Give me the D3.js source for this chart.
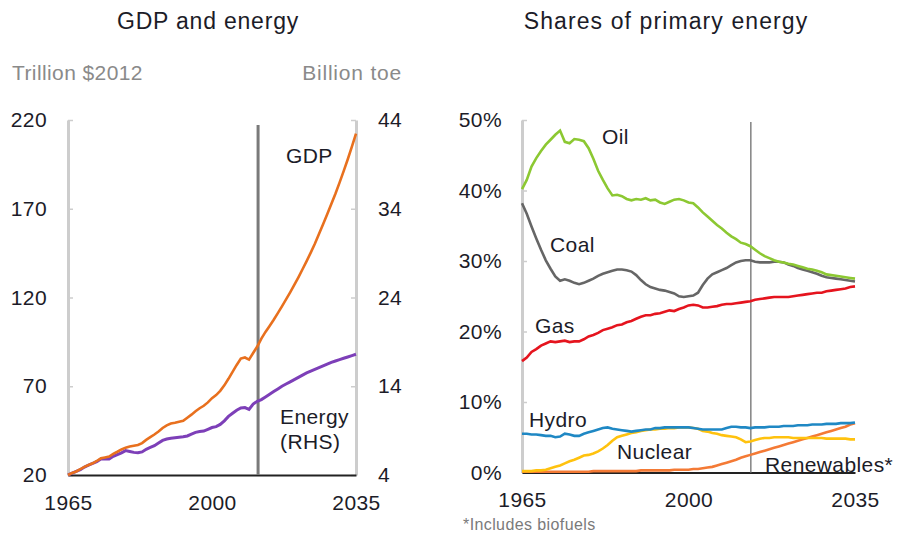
<!DOCTYPE html>
<html>
<head>
<meta charset="utf-8">
<script src="https://cdn.jsdelivr.net/npm/d3@7"></script>
<style>
  body { margin: 0; background: #fff; }
  text { font-family: "Liberation Sans", Arial, sans-serif; fill: #1c1c28; letter-spacing: 0.4px; }
</style>
</head>
<body>
<script>
// years shared by both panels
var years = d3.range(1965, 2036);

// GDP, trillion $2012 (left axis)
var gdp = [20.0, 21.1, 22.0, 23.3, 24.6, 25.6, 26.6, 27.9, 29.4, 29.9,
    30.4, 31.9, 33.1, 34.4, 35.4, 36.0, 36.5, 36.9, 38.0, 39.8,
    41.3, 42.8, 44.5, 46.5, 48.0, 49.0, 49.4, 50.0, 50.5, 52.3,
    54.0, 55.9, 57.6, 59.0, 60.9, 63.3, 65.0, 67.4, 70.5, 74.2,
    78.1, 82.0, 85.6, 86.2, 85.0, 88.7, 92.4, 96.8, 100.6, 104.0,
    107.5, 111.2, 115.0, 118.9, 122.9, 127.1, 131.4, 135.9, 140.5, 145.3,
    150.3, 155.8, 161.3, 166.9, 172.7, 178.5, 184.7, 191.2, 197.9, 205.0,
    212.3];

// primary energy, billion toe (right axis)
var energy = [4.0, 4.2, 4.4, 4.6, 4.9, 5.1, 5.3, 5.5, 5.8, 5.8,
    5.8, 6.1, 6.3, 6.5, 6.75, 6.65, 6.55, 6.5, 6.6, 6.9,
    7.1, 7.3, 7.6, 7.9, 8.05, 8.15, 8.2, 8.25, 8.3, 8.4,
    8.6, 8.8, 8.9, 8.95, 9.15, 9.35, 9.45, 9.7, 10.1, 10.6,
    10.95, 11.3, 11.55, 11.6, 11.4, 12.0, 12.3, 12.5, 12.8, 13.1,
    13.4, 13.7, 14.0, 14.25, 14.5, 14.75, 15.0, 15.25, 15.5, 15.7,
    15.9, 16.1, 16.3, 16.5, 16.7, 16.85, 17.0, 17.15, 17.3, 17.45,
    17.6];

// shares of primary energy, %
var oil = [40.2, 41.5, 43.4, 44.6, 45.6, 46.5, 47.2, 47.9, 48.5, 46.9,
    46.7, 47.3, 47.2, 47.0, 46.0, 44.5, 42.8, 41.5, 40.3, 39.3,
    39.4, 39.2, 38.8, 38.6, 38.8, 38.7, 38.9, 38.6, 38.7, 38.3,
    38.1, 38.4, 38.7, 38.8, 38.6, 38.3, 38.2, 37.6, 36.9, 36.3,
    35.7, 35.1, 34.6, 34.0, 33.5, 33.1, 32.6, 32.4, 32.1, 31.6,
    31.1, 30.7, 30.4, 30.1, 29.9, 29.8, 29.6, 29.5, 29.3, 29.1,
    28.9, 28.8, 28.6, 28.4, 28.1, 28.0, 27.9, 27.8, 27.7, 27.6,
    27.5];
var coal = [38.2, 36.7, 34.9, 33.2, 31.6, 30.1, 28.9, 27.8, 27.2, 27.4,
    27.2, 26.9, 26.7, 26.9, 27.2, 27.5, 27.9, 28.2, 28.4, 28.6,
    28.8, 28.8, 28.7, 28.5, 28.0, 27.3, 26.7, 26.3, 26.1, 25.9,
    25.8, 25.6, 25.4, 25.0, 24.9, 25.0, 25.1, 25.5, 26.6, 27.5,
    28.1, 28.4, 28.7, 29.0, 29.4, 29.8, 30.0, 30.1, 30.1, 29.9,
    29.8, 29.8, 29.8, 29.9, 29.9, 29.8, 29.5, 29.3, 29.0, 28.8,
    28.6, 28.4, 28.2, 27.9, 27.7, 27.6, 27.5, 27.4, 27.3, 27.2,
    27.1];
var gas = [15.8, 16.3, 17.1, 17.5, 18.0, 18.3, 18.6, 18.5, 18.6, 18.7,
    18.5, 18.6, 18.6, 18.9, 19.3, 19.5, 19.8, 20.2, 20.4, 20.6,
    20.9, 21.0, 21.3, 21.5, 21.8, 22.1, 22.3, 22.3, 22.5, 22.6,
    22.8, 23.0, 22.9, 23.2, 23.4, 23.7, 23.8, 23.7, 23.4, 23.4,
    23.5, 23.6, 23.8, 23.9, 23.9, 24.0, 24.1, 24.2, 24.3, 24.5,
    24.6, 24.7, 24.8, 24.9, 24.9, 24.9, 24.9, 25.0, 25.1, 25.2,
    25.3, 25.4, 25.5, 25.5, 25.7, 25.8, 25.9, 26.0, 26.1, 26.3,
    26.4];
var hydro = [5.5, 5.5, 5.4, 5.4, 5.3, 5.2, 5.2, 5.0, 5.1, 5.5,
    5.4, 5.2, 5.2, 5.5, 5.7, 5.9, 6.1, 6.3, 6.4, 6.2,
    6.1, 6.0, 5.9, 5.8, 5.9, 6.0, 6.1, 6.1, 6.3, 6.3,
    6.4, 6.4, 6.4, 6.4, 6.4, 6.4, 6.3, 6.2, 6.1, 6.1,
    6.1, 6.1, 6.1, 6.3, 6.5, 6.5, 6.4, 6.4, 6.3, 6.4,
    6.4, 6.4, 6.5, 6.5, 6.5, 6.6, 6.6, 6.6, 6.7, 6.7,
    6.7, 6.8, 6.8, 6.8, 6.9, 6.9, 6.9, 7.0, 7.0, 7.0,
    7.1];
var nuclear = [0.2, 0.2, 0.2, 0.3, 0.3, 0.4, 0.6, 0.8, 1.0, 1.3,
    1.6, 1.8, 2.1, 2.4, 2.5, 2.7, 3.0, 3.4, 3.9, 4.5,
    5.0, 5.2, 5.4, 5.6, 5.7, 5.9, 6.0, 6.1, 6.1, 6.2,
    6.2, 6.3, 6.3, 6.4, 6.4, 6.4, 6.3, 6.2, 5.9, 5.8,
    5.6, 5.5, 5.3, 5.2, 5.1, 5.0, 4.7, 4.3, 4.4, 4.6,
    4.8, 4.9, 4.9, 5.0, 5.0, 5.0, 5.0, 4.9, 4.9, 4.9,
    4.9, 4.9, 4.9, 4.9, 4.8, 4.8, 4.8, 4.8, 4.8, 4.7,
    4.7];
var renewables = [0.1, 0.1, 0.1, 0.1, 0.1, 0.1, 0.1, 0.1, 0.1, 0.1,
    0.1, 0.1, 0.1, 0.1, 0.1, 0.2, 0.2, 0.2, 0.2, 0.2,
    0.2, 0.2, 0.2, 0.2, 0.2, 0.3, 0.3, 0.3, 0.3, 0.3,
    0.3, 0.3, 0.4, 0.4, 0.4, 0.4, 0.5, 0.5, 0.6, 0.7,
    0.8, 1.0, 1.2, 1.4, 1.6, 1.8, 2.1, 2.3, 2.5, 2.7,
    2.9, 3.1, 3.3, 3.5, 3.7, 3.9, 4.1, 4.3, 4.5, 4.7,
    4.9, 5.1, 5.3, 5.5, 5.7, 5.9, 6.1, 6.3, 6.5, 6.8,
    7.0];

var xTicks = [1965, 2000, 2035];
var gdpTicks = [20, 70, 120, 170, 220];
var energyTicks = [4, 14, 24, 34, 44];
var shareTicks = [0, 10, 20, 30, 40, 50];
// year where the projection starts, as drawn on each panel
var splitLeft = 2011.2, splitRight = 2013.1;

var width = 897, height = 533;
var svg = d3.select("body").append("svg").attr("width", width).attr("height", height);

// ---------- left panel: GDP and energy ----------
var xL = d3.scaleLinear().domain([1965, 2035]).range([68, 356]);
var yGdp = d3.scaleLinear().domain([20, 220]).range([475, 120]);
var yEn = d3.scaleLinear().domain([4, 44]).range([475, 120]);

svg.append("text").attr("x", 208).attr("y", 29).attr("text-anchor", "middle")
    .style("font-size", "23px").style("letter-spacing", "0.8px").text("GDP and energy");
svg.append("text").attr("x", 12).attr("y", 80).style("font-size", "21px")
    .style("fill", "#8a8a8a").text("Trillion $2012");
svg.append("text").attr("x", 402).attr("y", 80).attr("text-anchor", "end")
    .style("font-size", "21px").style("letter-spacing", "0.8px").style("fill", "#8a8a8a").text("Billion toe");

var axL = svg.append("g").attr("transform", "translate(68,0)")
    .call(d3.axisLeft(yGdp).tickValues(gdpTicks).tickSize(-5).tickSizeOuter(0).tickPadding(21));
var axR = svg.append("g").attr("transform", "translate(356,0)")
    .call(d3.axisRight(yEn).tickValues(energyTicks).tickSize(-5).tickSizeOuter(0).tickPadding(22));
[axL, axR].forEach(function (g) {
    g.select(".domain").attr("stroke", "#cdcdcd").attr("stroke-width", 3);
    g.selectAll(".tick line").attr("stroke", "#cdcdcd").attr("stroke-width", 1.5);
    g.selectAll(".tick text").style("font-size", "21px").attr("fill", "#1c1c28");
});

var axB = svg.append("g").attr("transform", "translate(0,475)")
    .call(d3.axisBottom(xL).tickValues(xTicks).tickSize(0).tickPadding(20).tickFormat(d3.format("d")));
axB.select(".domain").attr("stroke", "#222").attr("stroke-width", 2);
axB.selectAll(".tick text").style("font-size", "21px").attr("fill", "#1c1c28");

svg.append("line").attr("x1", xL(splitLeft)).attr("x2", xL(splitLeft))
    .attr("y1", 125).attr("y2", 475).attr("stroke", "#7a7a7a").attr("stroke-width", 3);

var lineGdp = d3.line().x((d, i) => xL(years[i])).y((d) => yGdp(d));
var lineEn = d3.line().x((d, i) => xL(years[i])).y((d) => yEn(d));
svg.append("path").attr("d", lineEn(energy)).attr("fill", "none")
    .attr("stroke", "#7d3fb8").attr("stroke-width", 3);
svg.append("path").attr("d", lineGdp(gdp)).attr("fill", "none")
    .attr("stroke", "#e8701e").attr("stroke-width", 2.6);

svg.append("text").attr("x", 286).attr("y", 163).style("font-size", "21px").text("GDP");
svg.append("text").attr("x", 280).attr("y", 424).style("font-size", "21px").text("Energy");
svg.append("text").attr("x", 280).attr("y", 449).style("font-size", "21px").text("(RHS)");

// ---------- right panel: shares of primary energy ----------
var xS = d3.scaleLinear().domain([1965, 2035]).range([522, 855]);
var yS = d3.scaleLinear().domain([0, 50]).range([472.5, 120]);

svg.append("text").attr("x", 666).attr("y", 29).attr("text-anchor", "middle")
    .style("font-size", "23px").style("letter-spacing", "1.1px").text("Shares of primary energy");

var axS = svg.append("g").attr("transform", "translate(522,0)")
    .call(d3.axisLeft(yS).tickValues(shareTicks).tickSize(-5).tickSizeOuter(0).tickPadding(20)
        .tickFormat((d) => d + "%"));
axS.select(".domain").attr("stroke", "#cdcdcd").attr("stroke-width", 3);
axS.selectAll(".tick line").attr("stroke", "#cdcdcd").attr("stroke-width", 1.5);
axS.selectAll(".tick text").style("font-size", "21px").attr("fill", "#1c1c28");

var axSB = svg.append("g").attr("transform", "translate(0,472.5)")
    .call(d3.axisBottom(xS).tickValues(xTicks).tickSize(0).tickPadding(20).tickFormat(d3.format("d")));
axSB.select(".domain").attr("stroke", "#222").attr("stroke-width", 2);
axSB.selectAll(".tick text").style("font-size", "21px").attr("fill", "#1c1c28");

svg.append("line").attr("x1", xS(splitRight)).attr("x2", xS(splitRight))
    .attr("y1", 122).attr("y2", 472.5).attr("stroke", "#8a8a8a").attr("stroke-width", 1.6);

var fuels = [
    { name: "Renewables", values: renewables, color: "#f47a35" },
    { name: "Nuclear", values: nuclear, color: "#ffc20e" },
    { name: "Hydro", values: hydro, color: "#1f88c4" },
    { name: "Gas", values: gas, color: "#e5141e" },
    { name: "Coal", values: coal, color: "#666666" },
    { name: "Oil", values: oil, color: "#8cc832" }
];
var lineS = d3.line().x((d, i) => xS(years[i])).y((d) => yS(d));
svg.append("g").selectAll("path").data(fuels).enter().append("path")
    .attr("d", (d) => lineS(d.values)).attr("fill", "none")
    .attr("stroke", (d) => d.color).attr("stroke-width", 2.6);

var fuelLabels = [
    { text: "Oil", x: 602, y: 144 },
    { text: "Coal", x: 550, y: 252 },
    { text: "Gas", x: 535, y: 333 },
    { text: "Hydro", x: 529, y: 427 },
    { text: "Nuclear", x: 617, y: 459 },
    { text: "Renewables*", x: 765, y: 472 }
];
svg.append("g").selectAll("text").data(fuelLabels).enter().append("text")
    .attr("x", (d) => d.x).attr("y", (d) => d.y).style("font-size", "21px").text((d) => d.text);

svg.append("text").attr("x", 463).attr("y", 530).style("font-size", "16px")
    .style("fill", "#7a7a7a").text("*Includes biofuels");
</script>
</body>
</html>
